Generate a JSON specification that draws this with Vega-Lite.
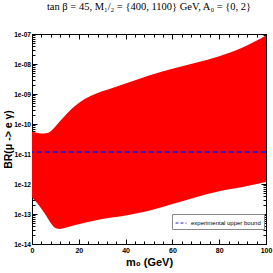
{
  "$schema": "https://vega.github.io/schema/vega-lite/v6.json",
  "width": 234,
  "height": 210,
  "autosize": {"type": "none"},
  "padding": {"left": 32, "top": 34, "right": 7, "bottom": 29},
  "title": {"text": "tan β = 45, M₁/₂ = {400, 1100} GeV, A₀ = {0, 2}", "font": "Liberation Serif", "fontSize": 10.5, "fontWeight": "normal", "color": "black", "offset": 19, "anchor": "middle"},
  "config": {
    "view": {"stroke": "black", "strokeWidth": 1},
    "axis": {"grid": false, "domainColor": "black", "tickColor": "black", "labelFont": "Liberation Sans", "labelFontWeight": "bold", "labelFontSize": 7, "labelColor": "black", "titleFont": "Liberation Sans", "titleFontWeight": "bold", "titleColor": "black", "labelFlush": false, "labelOverlap": false}
  },
  "data": {"values": [
    {"m0": 0, "lo": 3.63e-13, "hi": 5.37e-11},
    {"m0": 2, "lo": 2.40e-13, "hi": 5.13e-11},
    {"m0": 4, "lo": 1.51e-13, "hi": 4.79e-11},
    {"m0": 6, "lo": 8.91e-14, "hi": 4.90e-11},
    {"m0": 8, "lo": 5.01e-14, "hi": 5.75e-11},
    {"m0": 10, "lo": 3.39e-14, "hi": 8.32e-11},
    {"m0": 12, "lo": 3.16e-14, "hi": 1.26e-10},
    {"m0": 14, "lo": 3.39e-14, "hi": 1.86e-10},
    {"m0": 17, "lo": 3.98e-14, "hi": 3.24e-10},
    {"m0": 20, "lo": 4.57e-14, "hi": 5.01e-10},
    {"m0": 25, "lo": 5.62e-14, "hi": 8.51e-10},
    {"m0": 30, "lo": 6.76e-14, "hi": 1.23e-9},
    {"m0": 35, "lo": 7.76e-14, "hi": 1.66e-9},
    {"m0": 40, "lo": 8.91e-14, "hi": 2.24e-9},
    {"m0": 50, "lo": 1.29e-13, "hi": 4.17e-9},
    {"m0": 60, "lo": 2.14e-13, "hi": 6.92e-9},
    {"m0": 70, "lo": 3.63e-13, "hi": 1.10e-8},
    {"m0": 80, "lo": 5.75e-13, "hi": 1.82e-8},
    {"m0": 90, "lo": 7.94e-13, "hi": 3.55e-8},
    {"m0": 100, "lo": 1.17e-12, "hi": 8.91e-8}
  ]},
  "layer": [
    {
      "mark": {"type": "area", "color": "#ff0000", "interpolate": "monotone"},
      "encoding": {
        "x": {"field": "m0", "type": "quantitative", "scale": {"domain": [0, 100], "nice": false},
          "axis": {"orient": "bottom", "title": "m₀ (GeV)", "titleFontSize": 11, "titlePadding": 1,
            "values": [0,4,8,12,16,20,24,28,32,36,40,44,48,52,56,60,64,68,72,76,80,84,88,92,96,100],
            "labelExpr": "datum.value % 20 == 0 ? datum.label : ''",
            "tickSize": {"condition": {"test": "datum.value % 20 == 0", "value": -5}, "value": -3},
            "labelPadding": 7}},
        "y": {"field": "lo", "type": "quantitative", "scale": {"type": "log", "domain": [1e-14, 1e-7], "nice": false},
          "axis": {"orient": "left", "title": "BR(μ -> e γ)", "titleFontSize": 10.5, "titlePadding": 0, "labelFontSize": 6.6,
            "values": [1e-14,2e-14,3e-14,4e-14,5e-14,6e-14,7e-14,8e-14,9e-14,1e-13,2e-13,3e-13,4e-13,5e-13,6e-13,7e-13,8e-13,9e-13,1e-12,2e-12,3e-12,4e-12,5e-12,6e-12,7e-12,8e-12,9e-12,1e-11,2e-11,3e-11,4e-11,5e-11,6e-11,7e-11,8e-11,9e-11,1e-10,2e-10,3e-10,4e-10,5e-10,6e-10,7e-10,8e-10,9e-10,1e-9,2e-9,3e-9,4e-9,5e-9,6e-9,7e-9,8e-9,9e-9,1e-8,2e-8,3e-8,4e-8,5e-8,6e-8,7e-8,8e-8,9e-8,1e-7],
            "labelExpr": "abs(log(datum.value)/LN10 - round(log(datum.value)/LN10)) < 0.001 ? ('1e-' + (round(-log(datum.value)/LN10) < 10 ? '0' : '') + round(-log(datum.value)/LN10)) : ''",
            "tickSize": {"condition": {"test": "abs(log(datum.value)/LN10 - round(log(datum.value)/LN10)) < 0.001", "value": -5}, "value": -3},
            "labelPadding": 6.5}},
        "y2": {"field": "hi"}
      }
    },
    {
      "mark": {"type": "rule", "strokeDash": [5, 3], "strokeWidth": 1.2},
      "encoding": {
        "y": {"datum": 1.2e-11, "type": "quantitative", "axis": null},
        "color": {"datum": "experimental upper bound", "scale": {"range": ["#2a1fd0"]},
          "legend": {"title": null, "orient": "none", "legendX": 140, "legendY": 180, "padding": 3, "strokeColor": "#888888", "fillColor": "white", "labelFont": "Liberation Sans", "labelFontSize": 6, "labelColor": "black", "symbolType": "stroke", "symbolSize": 120, "symbolStrokeWidth": 1, "symbolDash": [3, 2], "labelOffset": 4}}
      }
    },
    {
      "mark": {"type": "point", "opacity": 0},
      "encoding": {
        "x": {"field": "m0", "type": "quantitative",
          "axis": {"orient": "top", "title": null, "labels": false,
            "values": [0,4,8,12,16,20,24,28,32,36,40,44,48,52,56,60,64,68,72,76,80,84,88,92,96,100],
            "tickSize": {"condition": {"test": "datum.value % 20 == 0", "value": -5}, "value": -3}}},
        "y": {"field": "hi", "type": "quantitative",
          "axis": {"orient": "right", "title": null, "labels": false,
            "values": [1e-14,2e-14,3e-14,4e-14,5e-14,6e-14,7e-14,8e-14,9e-14,1e-13,2e-13,3e-13,4e-13,5e-13,6e-13,7e-13,8e-13,9e-13,1e-12,2e-12,3e-12,4e-12,5e-12,6e-12,7e-12,8e-12,9e-12,1e-11,2e-11,3e-11,4e-11,5e-11,6e-11,7e-11,8e-11,9e-11,1e-10,2e-10,3e-10,4e-10,5e-10,6e-10,7e-10,8e-10,9e-10,1e-9,2e-9,3e-9,4e-9,5e-9,6e-9,7e-9,8e-9,9e-9,1e-8,2e-8,3e-8,4e-8,5e-8,6e-8,7e-8,8e-8,9e-8,1e-7],
            "tickSize": {"condition": {"test": "abs(log(datum.value)/LN10 - round(log(datum.value)/LN10)) < 0.001", "value": -5}, "value": -3}}}
      }
    }
  ],
  "resolve": {"axis": {"x": "independent", "y": "independent"}}
}
